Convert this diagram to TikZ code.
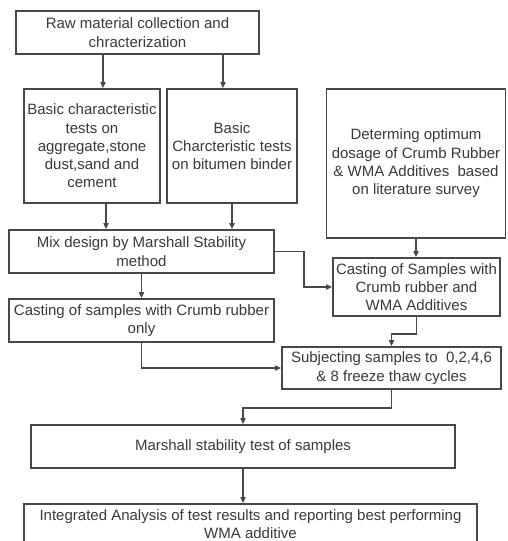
\documentclass[tikz,border=0pt]{standalone}
\usepackage{fontspec}
\setmainfont{Liberation Sans}
\usetikzlibrary{arrows.meta}
\definecolor{txt}{HTML}{3A3A3A}
\definecolor{edge}{HTML}{484848}
\begin{document}
\begin{tikzpicture}[x=1pt,y=-1pt,
  box/.style={draw=edge, line width=1.6pt, inner sep=0pt, align=center, text=txt,
    font=\fontsize{15}{18.3}\selectfont},
  arr/.style={draw=edge, line width=1.5pt, -{Triangle[length=6pt,width=5pt]}}]
\clip (0,0) rectangle (507,541);
\fill[white] (0,0) rectangle (507,541);

\node[box, minimum width=243pt, minimum height=43pt] (raw) at (137.5,32.5)
  {Raw material collection and\\chracterization};
\node[box, minimum width=136pt, minimum height=114pt] (b2) at (92,146)
  {Basic characteristic\\tests on\\aggregate,stone\\dust,sand and\\cement};
\node[box, minimum width=130pt, minimum height=114pt] (b3) at (232,146)
  {Basic\\Charcteristic tests\\on bitumen binder};
\node[box, minimum width=179pt, minimum height=149pt] (b4) at (416,163.5)
  {Determing optimum\\dosage of Crumb Rubber\\\& WMA Additives\ \ based\\on literature survey};
\node[box, minimum width=265pt, minimum height=43pt] (mix) at (141.5,251.5)
  {Mix design by Marshall Stability\\method};
\node[box, minimum width=265pt, minimum height=43pt] (ccr) at (141.5,320.5)
  {Casting of samples with Crumb rubber\\only};
\node[box, minimum width=167pt, minimum height=58pt] (cwma) at (416.5,287)
  {Casting of Samples with\\Crumb rubber and\\WMA Additives};
\node[box, minimum width=219pt, minimum height=42pt] (subj) at (391.5,368)
  {Subjecting samples to\ \ 0,2,4,6\\\& 8 freeze thaw cycles};
\node[box, minimum width=424pt, minimum height=43pt] (mars) at (243,446.5)
  {Marshall stability test of samples};
\node[box, minimum width=453pt, minimum height=40pt] (integ) at (250.5,524)
  {Integrated Analysis of test results and reporting best performing\\WMA additive};

\coordinate (xa) at (103,0);
\coordinate (xb) at (223,0);
\coordinate (xc) at (106,0);

\draw[arr] (raw.south -| xa) -- (b2.north -| xa);
\draw[arr] (raw.south -| xb) -- (b3.north -| xb);
\draw[arr] (b2.south -| xc) -- (mix.north -| xc);
\draw[arr] (b3.south) -- (mix.north -| b3.south);
\draw[arr] (mix.south) -- (ccr.north);
\draw[arr] (mix.east) -- ++(29,0) |- (cwma.west);
\draw[arr] (b4.south) -- (cwma.north -| b4.south);
\draw[arr] (cwma.south) -- ++(0,17) -| (subj.north);
\draw[arr] (ccr.south) |- (subj.west);
\draw[arr] (subj.south) -- ++(0,18) -| (mars.north);
\draw[arr] (mars.south) -- (mars.south |- integ.north);
\end{tikzpicture}
\end{document}
